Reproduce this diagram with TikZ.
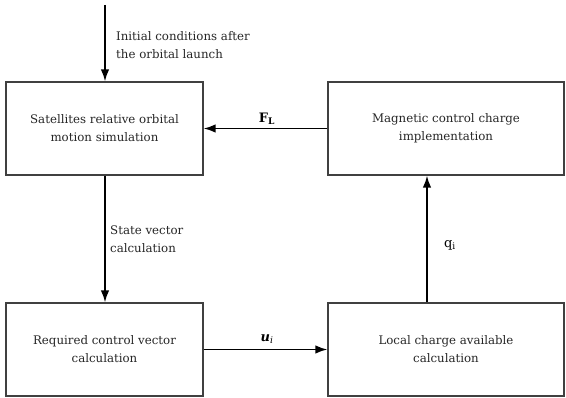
\documentclass[tikz,border=0pt]{standalone}
\usepackage{fontspec}
\setmainfont{DejaVu Serif}
\usetikzlibrary{arrows.meta}
\begin{document}
\begin{tikzpicture}[x=1pt,y=-1pt,
  blk/.style={draw=black!75,line width=1.3pt,minimum width=197pt,minimum height=93pt,inner sep=0pt,align=center,font=\fontsize{11.8}{18}\selectfont,text=black!85},
  arr/.style={line width=1.6pt,-{Latex[length=12pt,width=8.5pt]}},
  lbl/.style={align=left,font=\fontsize{11.8}{18}\selectfont,text=black!85,inner sep=0pt},
  sym/.style={font=\fontsize{13}{15}\selectfont,inner sep=0pt}]
\useasboundingbox (0,0) rectangle (566,398);
\node[blk] (sim) at (104.5,128.5) {Satellites relative orbital\\motion simulation};
\node[blk,minimum width=236pt] (mag) at (446,128.5) {Magnetic control charge\\implementation};
\node[blk] (req) at (104.5,349.5) {Required control vector\\calculation};
\node[blk,minimum width=236pt] (loc) at (446,349.5) {Local charge available\\calculation};
\coordinate (start) at (105,5);
\draw[arr] (start) -- (sim.north -| start);
\node[lbl,anchor=west] (init) at (116,45) {Initial conditions after\\the orbital launch};
\draw[arr] (mag.west) -- (sim.east);
\node[sym] (fl) at (267,119) {\textbf{F}\textsubscript{\textbf{L}}};
\draw[arr] (sim.south -| start) -- (req.north -| start);
\node[lbl,anchor=west] (sv) at (110,239) {State vector\\calculation};
\draw[arr] (req.east) -- (loc.west);
\node[sym] (ui) at (267,339) {\textbf{\textit{u}}\textsubscript{\textit{i}}};
\coordinate (qx) at (427,0);
\draw[arr] (loc.north -| qx) -- (mag.south -| qx);
\node[sym] (qi) at (450,245) {q\textsubscript{i}};
\end{tikzpicture}
\end{document}
